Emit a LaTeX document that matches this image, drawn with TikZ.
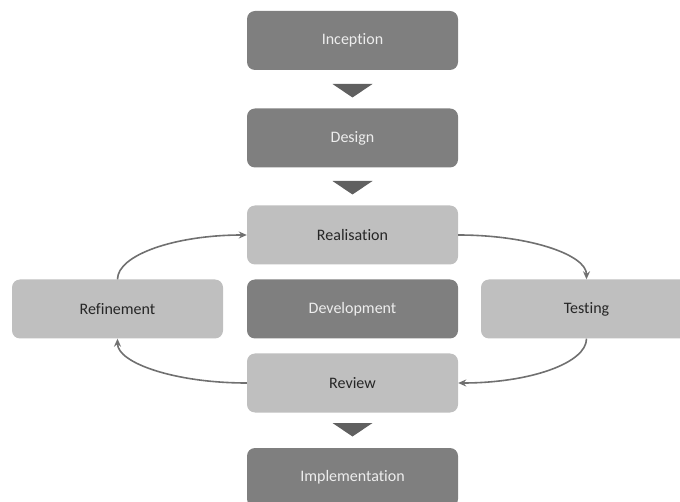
\documentclass[tikz,border=0pt]{standalone}
\usepackage{fontspec}
\setmainfont{Carlito}[Ligatures={NoCommon}]
\usetikzlibrary{arrows.meta,calc}
\definecolor{darkbox}{HTML}{7F7F7F}
\definecolor{lightbox}{HTML}{BFBFBF}
\definecolor{tri}{HTML}{606060}
\definecolor{arr}{HTML}{707070}
\definecolor{darktext}{HTML}{262626}
\definecolor{lighttext}{HTML}{EDEDED}
\tikzset{
  box/.style={rounded corners=8pt, minimum width=211pt, minimum height=59pt, inner sep=0pt, font=\fontsize{16}{18}\selectfont},
  dbox/.style={box, fill=darkbox, text=lighttext},
  lbox/.style={box, fill=lightbox, text=darktext},
  tri/.style={fill=tri, draw=none},
  flow/.style={draw=arr, line width=1.6pt, -{Stealth[length=8pt,width=7pt]}}
}
\begin{document}
\begin{tikzpicture}[x=1pt,y=-1pt]
\useasboundingbox (0,0) rectangle (680,502);
\clip (0,0) rectangle (680,502);
\node[dbox] (inc) at (352.5,40.5) {Inception};
\node[dbox] (des) at (352.5,138) {Design};
\node[lbox] (rea) at (352.5,235) {Realisation};
\node[dbox] (dev) at (352.5,309) {Development};
\node[lbox] (ref) at (117.5,309) {Refinement};
\node[lbox] (tes) at (586.5,309) {Testing};
\node[lbox] (rev) at (352.5,383) {Review};
\node[dbox] (imp) at (352.5,477.5) {Implementation};
\coordinate (t1) at (352.5,84);
\coordinate (t2) at (352.5,181);
\coordinate (t3) at (352.5,423);
\foreach \t in {t1,t2,t3}{
  \fill[tri] ($(\t)+(-20,0)$) -- ($(\t)+(20,0)$) -- ($(\t)+(0,13.5)$) -- cycle;
}
\draw[flow] (ref.north) .. controls ($(ref.north)+(0,-24.3)$) and ($(rea.west)+(-71.8,0)$) .. (rea.west);
\draw[flow] (rea.east) .. controls ($(rea.east)+(71.8,0)$) and ($(tes.north)+(0,-24.3)$) .. (tes.north);
\draw[flow] (tes.south) .. controls ($(tes.south)+(0,24.3)$) and ($(rev.east)+(71.8,0)$) .. (rev.east);
\draw[flow] (rev.west) .. controls ($(rev.west)+(-71.8,0)$) and ($(ref.south)+(0,24.3)$) .. (ref.south);
\end{tikzpicture}
\end{document}
